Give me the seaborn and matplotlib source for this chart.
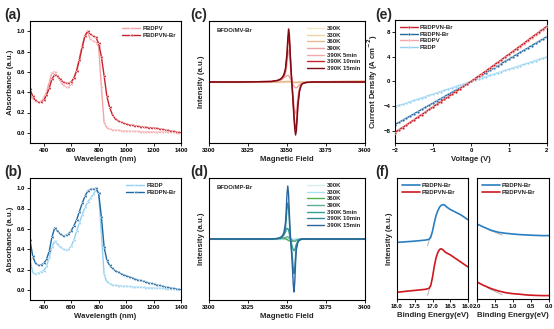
import matplotlib
matplotlib.use("Agg")
import matplotlib.pyplot as plt
import seaborn as sns
import pandas as pd

sns.set_theme(style="ticks")
plt.rcParams["font.family"] = ["Liberation Sans", "DejaVu Sans"]
plt.rcParams["font.weight"] = "bold"
plt.rcParams["axes.labelweight"] = "bold"
plt.rcParams["axes.linewidth"] = 0.8
plt.rcParams["xtick.major.width"] = 0.6
plt.rcParams["ytick.major.width"] = 0.6
plt.rcParams["xtick.major.size"] = 2
plt.rcParams["ytick.major.size"] = 2

# ---------------- data ----------------
wavelength = [300, 320, 340, 360, 380, 400, 420, 440, 460, 480, 500, 520, 540, 560, 580, 600,
              620, 640, 660, 680, 700, 720, 740, 760, 780, 800, 820, 840, 860, 880, 900, 920,
              940, 960, 980, 1000, 1020, 1040, 1060, 1080, 1100, 1120, 1140, 1160, 1180, 1200,
              1220, 1240, 1260, 1280, 1300, 1320, 1340, 1360, 1380, 1400]
abs_pbdpv = [0.38, 0.33, 0.31, 0.30, 0.31, 0.34, 0.40, 0.50, 0.59, 0.60, 0.56, 0.51, 0.47, 0.45, 0.45, 0.48,
             0.54, 0.62, 0.74, 0.86, 0.96, 0.99, 0.92, 0.90, 0.89, 0.85, 0.45, 0.10, 0.05, 0.035, 0.03, 0.027,
             0.025, 0.022, 0.02, 0.018, 0.017, 0.016, 0.015, 0.014, 0.013, 0.012, 0.012, 0.011, 0.011, 0.01,
             0.01, 0.009, 0.008, 0.007, 0.006, 0.005, 0.004, 0.003, 0.002, 0.001]
abs_pbdpvn = [0.43, 0.36, 0.32, 0.30, 0.30, 0.32, 0.37, 0.44, 0.53, 0.57, 0.555, 0.53, 0.50, 0.49, 0.49, 0.50,
              0.54, 0.61, 0.72, 0.84, 0.95, 1.00, 0.97, 0.95, 0.94, 0.88, 0.75, 0.56, 0.36, 0.25, 0.18, 0.14,
              0.12, 0.105, 0.095, 0.087, 0.08, 0.075, 0.07, 0.066, 0.062, 0.058, 0.055, 0.052, 0.05, 0.048,
              0.045, 0.04, 0.035, 0.03, 0.025, 0.02, 0.015, 0.01, 0.005, 0.0]
abs_pbdp = [0.30, 0.17, 0.155, 0.165, 0.175, 0.19, 0.23, 0.32, 0.42, 0.48, 0.45, 0.42, 0.40, 0.39, 0.40, 0.43,
            0.49, 0.58, 0.66, 0.74, 0.81, 0.86, 0.90, 0.94, 0.98, 0.95, 0.55, 0.15, 0.08, 0.06, 0.05, 0.045,
            0.042, 0.04, 0.037, 0.035, 0.033, 0.031, 0.029, 0.027, 0.025, 0.024, 0.022, 0.021, 0.019, 0.018,
            0.017, 0.016, 0.014, 0.012, 0.01, 0.009, 0.008, 0.007, 0.006, 0.005]
abs_pbdpn = [0.49, 0.33, 0.26, 0.24, 0.245, 0.26, 0.30, 0.38, 0.52, 0.61, 0.58, 0.55, 0.53, 0.535, 0.55, 0.58,
             0.63, 0.69, 0.77, 0.85, 0.92, 0.97, 0.99, 0.99, 1.00, 0.95, 0.72, 0.42, 0.29, 0.24, 0.21, 0.19,
             0.175, 0.16, 0.15, 0.14, 0.13, 0.12, 0.11, 0.10, 0.092, 0.085, 0.077, 0.07, 0.063, 0.056,
             0.05, 0.043, 0.037, 0.03, 0.025, 0.02, 0.015, 0.01, 0.005, 0.0]

epr_labels = ["300K", "330K", "360K", "390K", "390K 5min", "390K 10min", "390K 15min"]

field_c = [3300, 3320, 3340, 3344, 3346, 3347, 3348, 3349, 3350, 3350.5, 3351, 3351.5, 3352, 3352.5, 3353,
           3353.5, 3354, 3354.5, 3355, 3355.5, 3356, 3356.5, 3357, 3358, 3359, 3360, 3362, 3366, 3380, 3400]
epr_c_300 = [0, 0, 0, 0, 0, 0, 0, 0, 0, 0, 0, 0, 0, 0, 0, 0, 0, 0, 0, 0, 0, 0, 0, 0, 0, 0, 0, 0, 0, 0]
epr_c_330 = [0, 0, 0, 0, 0, 0, 0, 0, 0.002, 0.003, 0.003, 0.002, 0, 0, 0, 0, -0.002, -0.003, -0.003, -0.003,
             -0.002, 0, 0, 0, 0, 0, 0, 0, 0, 0]
epr_c_360 = [0, 0, 0, 0, 0.003, 0.005, 0.008, 0.01, 0.012, 0.012, 0.012, 0.01, 0.008, 0.005, 0.002, 0,
             -0.004, -0.008, -0.01, -0.012, -0.012, -0.01, -0.008, -0.005, -0.003, -0.002, -0.001, 0, 0.01, 0.02]
epr_c_390 = [0, 0, 0.005, 0.02, 0.04, 0.06, 0.08, 0.1, 0.12, 0.125, 0.12, 0.1, 0.07, 0.03, 0, -0.03, -0.06,
             -0.08, -0.1, -0.11, -0.11, -0.1, -0.08, -0.05, -0.03, -0.015, -0.005, 0, 0, 0]
epr_c_5 = [0, 0, 0.01, 0.02, 0.04, 0.06, 0.09, 0.16, 0.34, 0.5, 0.6, 0.55, 0.37, 0.18, 0.03, -0.12, -0.28,
           -0.43, -0.55, -0.6, -0.56, -0.43, -0.28, -0.11, -0.04, -0.02, -0.01, 0, 0, 0]
epr_c_10 = [0, 0, 0.01, 0.03, 0.05, 0.08, 0.12, 0.22, 0.48, 0.72, 0.88, 0.8, 0.53, 0.26, 0.04, -0.18, -0.4,
            -0.62, -0.8, -0.88, -0.82, -0.62, -0.4, -0.16, -0.06, -0.03, -0.01, 0, 0, 0]
epr_c_15 = [0, 0, 0.01, 0.03, 0.06, 0.09, 0.14, 0.25, 0.55, 0.82, 1.0, 0.9, 0.6, 0.3, 0.05, -0.2, -0.45,
            -0.7, -0.9, -1.0, -0.92, -0.7, -0.45, -0.18, -0.07, -0.03, -0.01, 0, 0, 0]

field_d = [3300, 3320, 3340, 3344, 3346, 3347, 3348, 3349, 3349.5, 3350, 3350.5, 3351, 3351.5, 3352, 3352.5,
           3353, 3353.5, 3354, 3354.5, 3355, 3355.5, 3356, 3357, 3358, 3359, 3360, 3362, 3366, 3380, 3400]
epr_d_300 = [0, 0, 0, 0, 0, 0, 0, 0, 0, 0, 0, 0, 0, 0, 0, 0, 0, 0, 0, 0, 0, 0, 0, 0, 0, 0, 0, 0, 0, 0]
epr_d_330 = [0, 0, 0, 0, 0, 0, 0, 0, 0.003, 0.004, 0.004, 0.003, 0, 0, 0, 0, -0.003, -0.004, -0.004, -0.003,
             0, 0, 0, 0, 0, 0, 0, 0, 0, 0]
epr_d_360 = [0, 0, 0, 0.005, 0.01, 0.01, 0.01, 0.005, 0, -0.01, -0.02, -0.03, -0.035, -0.04, -0.045, -0.045,
             -0.045, -0.045, -0.04, -0.04, -0.035, -0.03, -0.02, -0.01, -0.005, 0, 0, 0, 0, 0]
epr_d_390 = [0, 0, 0, 0.005, 0.01, 0.015, 0.02, 0.03, 0.035, 0.04, 0.04, 0.035, 0.02, 0.005, -0.01, -0.02,
             -0.03, -0.04, -0.045, -0.04, -0.03, -0.02, -0.01, -0.005, 0, 0, 0, 0, 0, 0]
epr_d_5 = [0, 0, 0, 0.01, 0.03, 0.05, 0.08, 0.13, 0.17, 0.2, 0.2, 0.17, 0.1, 0.03, -0.04, -0.1, -0.16, -0.2,
           -0.22, -0.2, -0.15, -0.1, -0.05, -0.02, -0.01, 0, 0, 0, 0, 0]
epr_d_10 = [0, 0, 0, 0.01, 0.02, 0.04, 0.08, 0.2, 0.37, 0.58, 0.68, 0.58, 0.34, 0.1, -0.07, -0.2, -0.37,
            -0.56, -0.65, -0.53, -0.3, -0.13, -0.04, -0.01, 0, 0, 0, 0, 0, 0]
epr_d_15 = [0, 0, 0, 0.01, 0.03, 0.06, 0.12, 0.3, 0.55, 0.85, 1.0, 0.85, 0.5, 0.15, -0.1, -0.3, -0.55, -0.85,
            -1.0, -0.8, -0.45, -0.2, -0.06, -0.02, -0.01, 0, 0, 0, 0, 0]

voltage = [-2.0, -1.9, -1.8, -1.7, -1.6, -1.5, -1.4, -1.3, -1.2, -1.1, -1.0, -0.9, -0.8, -0.7, -0.6, -0.5,
           -0.4, -0.3, -0.2, -0.1, 0.0, 0.1, 0.2, 0.3, 0.4, 0.5, 0.6, 0.7, 0.8, 0.9, 1.0, 1.1, 1.2, 1.3, 1.4,
           1.5, 1.6, 1.7, 1.8, 1.9, 2.0]
j_pbdpvn = [-8.3, -7.9, -7.5, -7.1, -6.65, -6.25, -5.8, -5.4, -5.0, -4.55, -4.15, -3.7, -3.3, -2.9, -2.5,
            -2.05, -1.65, -1.25, -0.8, -0.4, 0.0, 0.45, 0.9, 1.3, 1.75, 2.2, 2.65, 3.1, 3.55, 4.0, 4.45,
            4.9, 5.35, 5.8, 6.25, 6.75, 7.2, 7.65, 8.1, 8.55, 9.0]
j_pbdpn = [-7.0, -6.65, -6.3, -5.95, -5.6, -5.25, -4.9, -4.55, -4.2, -3.85, -3.5, -3.15, -2.8, -2.45, -2.1,
           -1.75, -1.4, -1.05, -0.7, -0.35, 0.0, 0.36, 0.72, 1.08, 1.45, 1.82, 2.18, 2.55, 2.92, 3.28, 3.65,
           4.02, 4.38, 4.75, 5.12, 5.48, 5.85, 6.22, 6.58, 6.95, 7.3]
j_pbdpv = [-8.2, -7.8, -7.4, -7.0, -6.6, -6.2, -5.75, -5.35, -4.95, -4.5, -4.1, -3.68, -3.28, -2.88, -2.47,
           -2.04, -1.64, -1.24, -0.8, -0.4, 0.0, 0.44, 0.88, 1.28, 1.72, 2.16, 2.6, 3.04, 3.48, 3.92, 4.36,
           4.8, 5.24, 5.68, 6.12, 6.6, 7.05, 7.5, 7.95, 8.4, 8.85]
j_pbdp = [-4.1, -3.9, -3.7, -3.5, -3.28, -3.07, -2.87, -2.66, -2.46, -2.25, -2.05, -1.84, -1.64, -1.43, -1.23,
          -1.02, -0.82, -0.61, -0.41, -0.2, 0.0, 0.2, 0.4, 0.6, 0.8, 1.0, 1.2, 1.4, 1.6, 1.8, 2.0, 2.2, 2.4,
          2.6, 2.8, 3.0, 3.2, 3.4, 3.6, 3.8, 4.0]

be_left = [18.0, 17.8, 17.6, 17.4, 17.2, 17.1, 17.05, 17.0, 16.95, 16.9, 16.85, 16.8, 16.75, 16.7, 16.65,
           16.6, 16.5, 16.4, 16.3, 16.2, 16.1, 16.0]
ups_left_pbdpn = [0.468, 0.472, 0.476, 0.481, 0.487, 0.493, 0.51, 0.56, 0.63, 0.69, 0.73, 0.76, 0.775, 0.78,
                  0.775, 0.76, 0.74, 0.725, 0.71, 0.695, 0.675, 0.655]
ups_left_pbdpvn = [0.055, 0.062, 0.068, 0.074, 0.08, 0.088, 0.11, 0.18, 0.27, 0.34, 0.385, 0.41, 0.415,
                   0.405, 0.39, 0.38, 0.365, 0.345, 0.325, 0.305, 0.285, 0.265]
be_right = [2.0, 1.8, 1.6, 1.4, 1.2, 1.0, 0.8, 0.6, 0.4, 0.2, 0.0]
ups_right_pbdpn = [0.62, 0.592, 0.567, 0.551, 0.543, 0.537, 0.532, 0.529, 0.526, 0.524, 0.524]
ups_right_pbdpvn = [0.14, 0.11, 0.085, 0.066, 0.052, 0.044, 0.039, 0.033, 0.03, 0.028, 0.028]
tan_left_x = [17.14, 17.06]
tan_left_blue = [0.44, 0.52]
tan_left_red = [0.03, 0.11]
tan_right_x = [1.7, 1.3]
tan_right_blue = [0.575, 0.528]
tan_right_red = [0.09, 0.035]

# ---------------- colours ----------------
c_pbdpv = "#f4a3a8"
c_pbdpvn = "#c8202a"
c_pbdp = "#92d0f0"
c_pbdpn = "#2068a0"
c_f_blue = "#2a7fc0"
c_f_red = "#d0161e"
cols_c = ["#f6e8c6", "#efd4a2", "#e6b894", "#e8a4a4", "#f2a6ae", "#c8242c", "#7c0a12"]
cols_d = ["#d3f0ef", "#a9e3ee", "#4fb34a", "#63aa9c", "#34a096", "#2f8b9c", "#2a649c"]

TICK = 4.3
LAB = 5.6
LEG = 4.3

fig = plt.figure(figsize=(5.54, 3.29), dpi=100)
W, H = 554.0, 329.0


def add_ax(x0, x1, ytop, ybot):
    return fig.add_axes([x0 / W, 1 - ybot / H, (x1 - x0) / W, (ybot - ytop) / H])


def style(ax):
    for s in ax.spines.values():
        s.set_visible(True)
        s.set_color("black")
        s.set_linewidth(0.8)
    ax.tick_params(labelsize=TICK, pad=1.5, direction="out", colors="black")
    for lab in ax.get_xticklabels() + ax.get_yticklabels():
        lab.set_fontweight("bold")


def leg(ax, loc, **kw):
    lg = ax.legend(loc=loc, frameon=False, fontsize=LEG, handlelength=3.0, handletextpad=0.4,
                   labelspacing=0.25, borderaxespad=0.4, **kw)
    for t in lg.get_texts():
        t.set_fontweight("bold")
    return lg


# (a)
ax = add_ax(30, 181, 21, 143)
sns.lineplot(x=wavelength, y=abs_pbdpv, ax=ax, color=c_pbdpv, lw=1.0, marker="<", markersize=2.2,
             markeredgewidth=0.3, label="PBDPV")
sns.lineplot(x=wavelength, y=abs_pbdpvn, ax=ax, color=c_pbdpvn, lw=1.0, marker="<", markersize=2.2,
             markeredgewidth=0.3, label="PBDPVN-Br")
ax.set_xlim(300, 1400)
ax.set_ylim(-0.1, 1.1)
ax.set_xticks([400, 600, 800, 1000, 1200, 1400])
ax.set_yticks([0.0, 0.2, 0.4, 0.6, 0.8, 1.0])
ax.set_xlabel("Wavelength (nm)", fontsize=LAB, labelpad=2)
ax.set_ylabel("Absorbance (a.u.)", fontsize=LAB, labelpad=2)
style(ax)
leg(ax, "upper right")

# (b)
ax = add_ax(30, 181, 178, 300)
sns.lineplot(x=wavelength, y=abs_pbdp, ax=ax, color=c_pbdp, lw=1.0, marker="<", markersize=2.2,
             markeredgewidth=0.3, label="PBDP")
sns.lineplot(x=wavelength, y=abs_pbdpn, ax=ax, color=c_pbdpn, lw=1.0, marker="<", markersize=2.2,
             markeredgewidth=0.3, label="PBDPN-Br")
ax.set_xlim(300, 1400)
ax.set_ylim(-0.1, 1.1)
ax.set_xticks([400, 600, 800, 1000, 1200, 1400])
ax.set_yticks([0.0, 0.2, 0.4, 0.6, 0.8, 1.0])
ax.set_xlabel("Wavelength (nm)", fontsize=LAB, labelpad=2)
ax.set_ylabel("Absorbance (a.u.)", fontsize=LAB, labelpad=2)
style(ax)
leg(ax, "upper right")

# (c)
ax = add_ax(209, 365, 21, 143)
for lab, ys, c in zip(epr_labels, [epr_c_300, epr_c_330, epr_c_360, epr_c_390, epr_c_5, epr_c_10, epr_c_15],
                      cols_c):
    sns.lineplot(x=field_c, y=ys, ax=ax, color=c, lw=1.0, label=lab)
ax.set_xlim(3300, 3400)
ax.set_ylim(-1.15, 1.15)
ax.set_xticks([3300, 3325, 3350, 3375, 3400])
ax.set_yticks([])
ax.set_xlabel("Magnetic Field", fontsize=LAB, labelpad=2)
ax.set_ylabel("Intensity (a.u.)", fontsize=LAB, labelpad=3)
ax.text(0.05, 0.92, "BFDO/MV-Br", transform=ax.transAxes, fontsize=LEG, fontweight="bold", va="center")
style(ax)
leg(ax, "upper right")

# (d)
ax = add_ax(209, 365, 178, 300)
for lab, ys, c in zip(epr_labels, [epr_d_300, epr_d_330, epr_d_360, epr_d_390, epr_d_5, epr_d_10, epr_d_15],
                      cols_d):
    sns.lineplot(x=field_d, y=ys, ax=ax, color=c, lw=1.0, label=lab)
ax.set_xlim(3300, 3400)
ax.set_ylim(-1.15, 1.15)
ax.set_xticks([3300, 3325, 3350, 3375, 3400])
ax.set_yticks([])
ax.set_xlabel("Magnetic Field", fontsize=LAB, labelpad=2)
ax.set_ylabel("Intensity (a.u.)", fontsize=LAB, labelpad=3)
ax.text(0.05, 0.92, "BFDO/MP-Br", transform=ax.transAxes, fontsize=LEG, fontweight="bold", va="center")
style(ax)
leg(ax, "upper right")

# (e)
ax = add_ax(395, 547, 20, 143)
for lab, ys, c in [("PBDPVN-Br", j_pbdpvn, c_pbdpvn), ("PBDPN-Br", j_pbdpn, c_pbdpn),
                   ("PBDPV", j_pbdpv, c_pbdpv), ("PBDP", j_pbdp, c_pbdp)]:
    sns.lineplot(x=voltage, y=ys, ax=ax, color=c, lw=1.0, marker="o", markersize=2.0,
                 markeredgewidth=0.3, label=lab, zorder=3 if lab == "PBDPVN-Br" else 2)
ax.set_xlim(-2, 2)
ax.set_ylim(-10, 10)
ax.set_xticks([-2, -1, 0, 1, 2])
ax.set_yticks([-8, -4, 0, 4, 8])
ax.set_xlabel("Voltage (V)", fontsize=LAB, labelpad=2)
ax.set_ylabel("Current Density (A cm$^{-2}$)", fontsize=LAB, labelpad=2)
style(ax)
leg(ax, "upper left")

# (f)
axl = add_ax(397, 468, 178, 299)
axr = add_ax(477, 549, 178, 299)
sns.lineplot(x=tan_left_x, y=tan_left_blue, ax=axl, color="#a8a8a8", lw=0.6)
sns.lineplot(x=tan_left_x, y=tan_left_red, ax=axl, color="#a8a8a8", lw=0.6)
sns.lineplot(x=be_left, y=ups_left_pbdpn, ax=axl, color=c_f_blue, lw=1.2, label="PBDPN-Br")
sns.lineplot(x=be_left, y=ups_left_pbdpvn, ax=axl, color=c_f_red, lw=1.2, label="PBDPVN-Br")
sns.lineplot(x=tan_right_x, y=tan_right_blue, ax=axr, color="#a8a8a8", lw=0.6)
sns.lineplot(x=tan_right_x, y=tan_right_red, ax=axr, color="#a8a8a8", lw=0.6)
sns.lineplot(x=be_right, y=ups_right_pbdpn, ax=axr, color=c_f_blue, lw=1.2, label="PBDPN-Br")
sns.lineplot(x=be_right, y=ups_right_pbdpvn, ax=axr, color=c_f_red, lw=1.2, label="PBDPVN-Br")
axl.set_xlim(18.0, 16.0)
axr.set_xlim(2.0, 0.0)
for a in (axl, axr):
    a.set_ylim(0, 1)
    a.set_yticks([])
    a.set_xlabel("Binding Energy(eV)", fontsize=LAB, labelpad=2)
    style(a)
    leg(a, "upper left")
axl.set_xticks([18.0, 17.5, 17.0, 16.5, 16.0])
axr.set_xticks([2.0, 1.5, 1.0, 0.5, 0.0])
axl.set_xticklabels(["18.0", "17.5", "17.0", "16.5", "16.0"], fontweight="bold", fontsize=TICK)
axr.set_xticklabels(["2.0", "1.5", "1.0", "0.5", "0.0"], fontweight="bold", fontsize=TICK)
axl.set_ylabel("Intensity (a.u.)", fontsize=LAB, labelpad=3)
axr.set_ylabel("")

# panel labels
for txt, x, y in [("(a)", 4, 15), ("(b)", 4, 172), ("(c)", 190, 15), ("(d)", 190, 172),
                  ("(e)", 375, 15), ("(f)", 375, 172)]:
    fig.text(x / W, 1 - y / H, txt, fontsize=10, fontweight="bold", va="center", ha="left")

fig.savefig("out.png", dpi=100)
